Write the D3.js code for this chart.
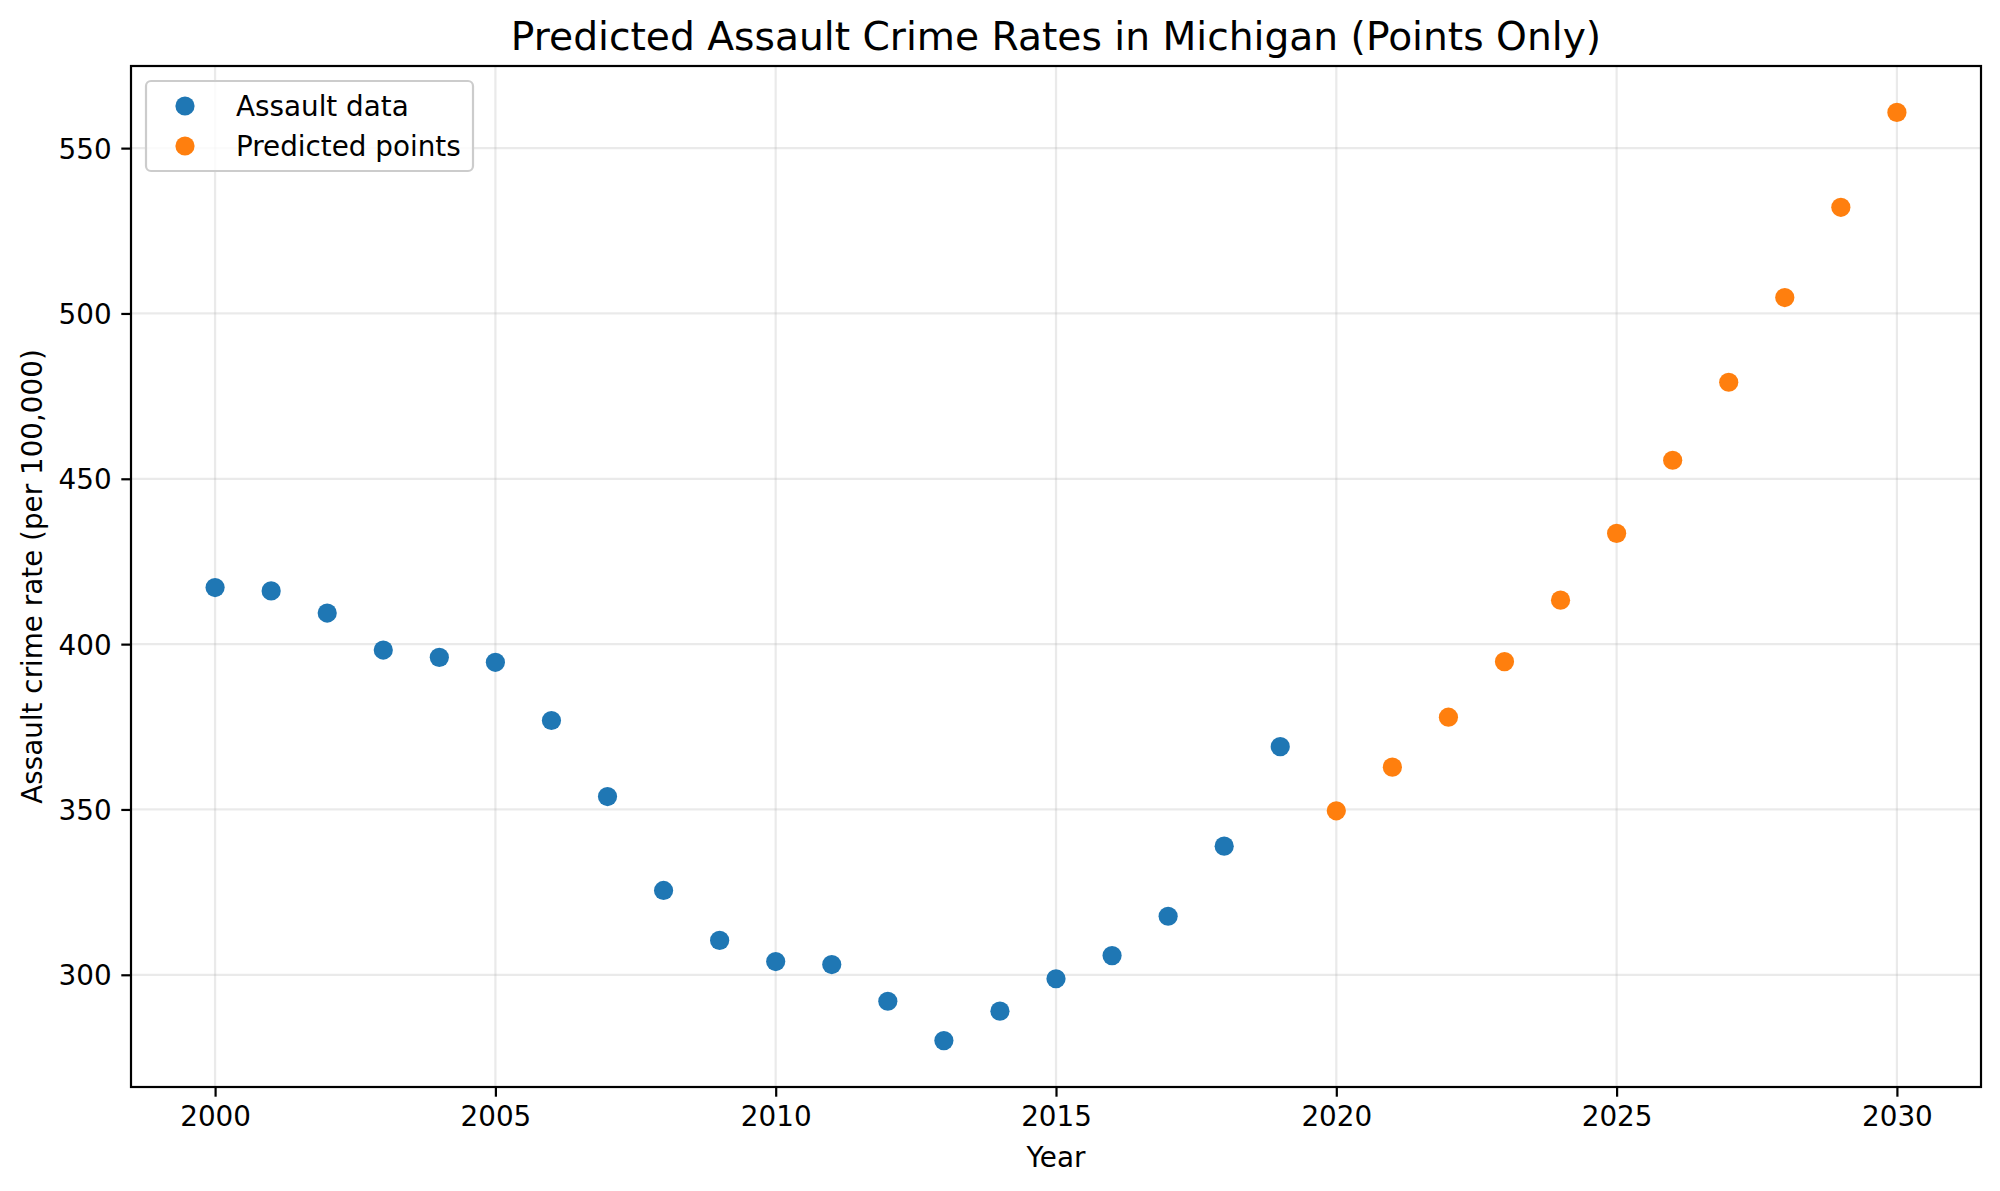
<!DOCTYPE html>
<html>
<head>
<meta charset="utf-8">
<script src="https://cdn.jsdelivr.net/npm/d3@7"></script>
<style>
  html, body { margin: 0; padding: 0; background: #fff; }
  svg { display: block; font-family: "DejaVu Sans", sans-serif; }
</style>
</head>
<body>
<svg id="chart" width="2000" height="1191"></svg>
<script>
// ---- data ----
const assaultYears = [2000,2001,2002,2003,2004,2005,2006,2007,2008,2009,2010,2011,2012,2013,2014,2015,2016,2017,2018,2019];
const assaultValues = [417.1,416.1,409.4,398.2,396.0,394.5,376.9,353.9,325.5,310.4,304.0,303.1,292.0,280.1,289.0,298.8,305.8,317.7,338.9,369.0];
const predictedYears = [2020,2021,2022,2023,2024,2025,2026,2027,2028,2029,2030];
const predictedValues = [349.6,362.8,377.9,394.7,413.3,433.5,455.6,479.2,504.8,532.1,560.8];
const xTicks = [2000,2005,2010,2015,2020,2025,2030];
const yTicks = [300,350,400,450,500,550];
const legendLabels = ["Assault data","Predicted points"];
const colors = ["#1f77b4","#ff7f0e"];

// ---- layout ----
const L = 131, R = 1981, T = 66, B = 1087;
const svg = d3.select("#chart");

const allX = assaultYears.concat(predictedYears);
const allY = assaultValues.concat(predictedValues);
const xmin = d3.min(allX), xmax = d3.max(allX);
const ymin = d3.min(allY), ymax = d3.max(allY);
const xpad = (xmax - xmin) * 0.05, ypad = (ymax - ymin) * 0.05;

const x = d3.scaleLinear().domain([xmin - xpad, xmax + xpad]).range([L, R]);
const y = d3.scaleLinear().domain([ymin - ypad, ymax + ypad]).range([B, T]);

const R_PT = 9.6;

// grid
const grid = svg.append("g");
grid.selectAll(".vg").data(xTicks).enter().append("line")
  .attr("x1", d => x(d)).attr("x2", d => x(d)).attr("y1", T).attr("y2", B)
  .attr("stroke", "#b0b0b0").attr("stroke-opacity", 0.27).attr("stroke-width", 2.2);
grid.selectAll(".hg").data(yTicks).enter().append("line")
  .attr("x1", L).attr("x2", R).attr("y1", d => y(d)).attr("y2", d => y(d))
  .attr("stroke", "#b0b0b0").attr("stroke-opacity", 0.27).attr("stroke-width", 2.2);

// axes
const xAxis = d3.axisBottom(x).tickValues(xTicks).tickFormat(d3.format("d")).tickSize(9.7).tickPadding(9.7);
const yAxis = d3.axisLeft(y).tickValues(yTicks).tickFormat(d3.format("d")).tickSize(9.7).tickPadding(9.7);

const gx = svg.append("g").attr("transform", `translate(0,${B})`).call(xAxis);
const gy = svg.append("g").attr("transform", `translate(${L},0)`).call(yAxis);
[gx, gy].forEach(g => {
  g.select(".domain").remove();
  g.selectAll(".tick line").attr("stroke", "#000").attr("stroke-width", 2.2);
  g.selectAll(".tick text").attr("fill", "#000").attr("font-size", 27.8)
    .attr("font-family", "DejaVu Sans");
});
gx.selectAll(".tick text").attr("dy", "0.71em");
gy.selectAll(".tick text").attr("dy", "0.36em");

// points
svg.append("g").selectAll("circle").data(assaultYears.map((d, i) => [d, assaultValues[i]]))
  .enter().append("circle")
  .attr("cx", d => x(d[0])).attr("cy", d => y(d[1])).attr("r", R_PT).attr("fill", colors[0]);
svg.append("g").selectAll("circle").data(predictedYears.map((d, i) => [d, predictedValues[i]]))
  .enter().append("circle")
  .attr("cx", d => x(d[0])).attr("cy", d => y(d[1])).attr("r", R_PT).attr("fill", colors[1]);

// frame
svg.append("rect").attr("x", L).attr("y", T).attr("width", R - L).attr("height", B - T)
  .attr("fill", "none").attr("stroke", "#000").attr("stroke-width", 2.2);

// title & labels
svg.append("text").attr("x", (L + R) / 2).attr("y", 50).attr("text-anchor", "middle")
  .attr("font-size", 39.2).attr("fill", "#000")
  .text("Predicted Assault Crime Rates in Michigan (Points Only)");
svg.append("text").attr("x", (L + R) / 2).attr("y", 1167).attr("text-anchor", "middle")
  .attr("font-size", 27.8).attr("fill", "#000").text("Year");
svg.append("text").attr("transform", `translate(42,${(T + B) / 2}) rotate(-90)`)
  .attr("text-anchor", "middle").attr("font-size", 27.8).attr("fill", "#000")
  .text("Assault crime rate (per 100,000)");

// legend
const lg = svg.append("g");
lg.append("rect").attr("x", 146).attr("y", 81).attr("width", 327).attr("height", 90)
  .attr("rx", 5).attr("fill", "#fff").attr("fill-opacity", 0.8)
  .attr("stroke", "#cccccc").attr("stroke-width", 2.2);
legendLabels.forEach((lab, i) => {
  lg.append("circle").attr("cx", 185).attr("cy", 106 + i * 40).attr("r", R_PT).attr("fill", colors[i]);
  lg.append("text").attr("x", 236).attr("y", 106 + i * 40).attr("dy", "0.36em")
    .attr("font-size", 27.8).attr("fill", "#000").text(lab);
});
</script>
</body>
</html>
